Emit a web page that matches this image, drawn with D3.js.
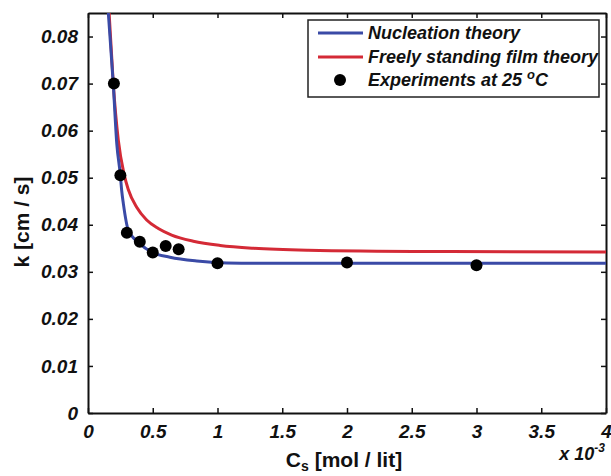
<!DOCTYPE html>
<html>
<head>
<meta charset="utf-8">
<script src="https://cdn.jsdelivr.net/npm/d3@7"></script>
<style>
  body { margin: 0; background: #fff; }
  text { font-family: "Liberation Sans", Arial, sans-serif; }
</style>
</head>
<body>
<div id="chart"></div>
<script>
// x values are in units of 1e-3 mol/lit
const xTicks = [0, 0.5, 1, 1.5, 2, 2.5, 3, 3.5, 4];
const yTicks = [0, 0.01, 0.02, 0.03, 0.04, 0.05, 0.06, 0.07, 0.08];

const expC = [0.2, 0.25, 0.3, 0.4, 0.5, 0.6, 0.7, 1.0, 2.0, 3.0];
const expK = [0.0700, 0.0505, 0.0383, 0.0364, 0.0341, 0.0355, 0.0348, 0.0318, 0.0320, 0.0314];

const nucC = [0.15, 0.157, 0.195, 0.222, 0.25, 0.26, 0.273, 0.311, 0.40, 0.49, 0.633, 0.84, 1.07, 1.38, 2.4, 4.0];
const nucK = [0.0880, 0.0850, 0.0700, 0.0573, 0.0505, 0.0473, 0.0445, 0.0389, 0.0360, 0.0342, 0.0331, 0.0323, 0.0319, 0.0318, 0.0318, 0.0318];

const filmC = [0.155, 0.163, 0.195, 0.234, 0.278, 0.311, 0.376, 0.453, 0.543, 0.646, 0.813, 1.02, 1.28, 1.7, 2.8, 4.0];
const filmK = [0.0880, 0.0850, 0.0700, 0.0580, 0.0508, 0.0475, 0.0437, 0.0410, 0.0392, 0.0378, 0.0365, 0.0356, 0.0350, 0.0346, 0.0343, 0.0342];

const legendLabels = ["Nucleation theory", "Freely standing film theory", "Experiments at 25 "];

const width = 611, height = 476;
const margin = { top: 13, right: 5, bottom: 63, left: 88 };
const w = width - margin.left - margin.right;
const h = height - margin.top - margin.bottom;

const blue = "#3a4aa6";
const red = "#d42a36";

const svg = d3.select("#chart")
  .append("svg")
  .attr("width", width)
  .attr("height", height);

svg.append("defs").append("clipPath")
  .attr("id", "clip")
  .append("rect")
  .attr("width", w)
  .attr("height", h);

const g = svg.append("g")
  .attr("transform", `translate(${margin.left},${margin.top})`);

const x = d3.scaleLinear().domain([0, 4]).range([0, w]);
const y = d3.scaleLinear().domain([0, 0.085]).range([h, 0]);

const fmtY = d => d === 0 ? "0" : d3.format(".2f")(d);
const fmtX = d => d3.format("~g")(d);

// axes with inward ticks on all four sides
const axisStyle = sel => {
  sel.selectAll(".domain").attr("stroke", "#111").attr("stroke-width", 2);
  sel.selectAll(".tick line").attr("stroke", "#111").attr("stroke-width", 1.5);
  sel.selectAll(".tick text")
    .attr("fill", "#111")
    .style("font-size", "19px")
    .style("font-weight", "bold")
    .style("font-style", "italic");
};

g.append("g")
  .attr("transform", `translate(0,${h})`)
  .call(d3.axisBottom(x).tickValues(xTicks).tickFormat(fmtX).tickSizeInner(-5).tickSizeOuter(0).tickPadding(12))
  .call(axisStyle);

g.append("g")
  .call(d3.axisTop(x).tickValues(xTicks).tickFormat("").tickSizeInner(-5).tickSizeOuter(0))
  .call(axisStyle);

g.append("g")
  .call(d3.axisLeft(y).tickValues(yTicks).tickFormat(fmtY).tickSizeInner(-5).tickSizeOuter(0).tickPadding(10))
  .call(axisStyle);

g.append("g")
  .attr("transform", `translate(${w},0)`)
  .call(d3.axisRight(y).tickValues(yTicks).tickFormat("").tickSizeInner(-5).tickSizeOuter(0))
  .call(axisStyle);

// theory curves
const line = d3.line()
  .x(d => x(d[0]))
  .y(d => y(d[1]))
  .curve(d3.curveMonotoneX);

const curves = g.append("g").attr("clip-path", "url(#clip)");

curves.append("path")
  .datum(d3.zip(filmC, filmK))
  .attr("fill", "none")
  .attr("stroke", red)
  .attr("stroke-width", 3)
  .attr("d", line);

curves.append("path")
  .datum(d3.zip(nucC, nucK))
  .attr("fill", "none")
  .attr("stroke", blue)
  .attr("stroke-width", 3)
  .attr("d", line);

// experiments
g.selectAll("circle.exp")
  .data(d3.zip(expC, expK))
  .enter()
  .append("circle")
  .attr("class", "exp")
  .attr("cx", d => x(d[0]))
  .attr("cy", d => y(d[1]))
  .attr("r", 6)
  .attr("fill", "#000");

// legend
const lg = svg.append("g").attr("transform", "translate(308,20)");
lg.append("rect")
  .attr("width", 291)
  .attr("height", 77)
  .attr("fill", "#fff")
  .attr("stroke", "#222")
  .attr("stroke-width", 1.5);

const rows = [13, 37, 60];
[blue, red].forEach((c, i) => {
  lg.append("line")
    .attr("x1", 10).attr("x2", 55)
    .attr("y1", rows[i]).attr("y2", rows[i])
    .attr("stroke", c)
    .attr("stroke-width", 3);
});
lg.append("circle")
  .attr("cx", 32).attr("cy", rows[2])
  .attr("r", 6)
  .attr("fill", "#000");

legendLabels.forEach((t, i) => {
  const txt = lg.append("text")
    .attr("x", 60)
    .attr("y", rows[i])
    .attr("dy", "0.35em")
    .attr("fill", "#111")
    .style("font-size", "18px")
    .style("font-weight", "bold")
    .style("font-style", "italic")
    .text(t);
  if (i === 2) {
    txt.append("tspan").attr("dy", -7).style("font-size", "13px").text("o");
    txt.append("tspan").attr("dy", 7).text("C");
  }
});

// axis labels
svg.append("text")
  .attr("transform", `translate(29,222) rotate(-90)`)
  .attr("text-anchor", "middle")
  .attr("fill", "#111")
  .style("font-size", "21px")
  .style("font-weight", "bold")
  .text("k [cm / s]");

const xl = svg.append("text")
  .attr("x", 344)
  .attr("y", 467)
  .attr("text-anchor", "middle")
  .attr("fill", "#111")
  .style("font-size", "21px")
  .style("font-weight", "bold");
xl.append("tspan").text("C");
xl.append("tspan").attr("dy", 4).style("font-size", "14px").text("s");
xl.append("tspan").attr("dy", -4).text(" [mol / lit]");

const ex = svg.append("text")
  .attr("x", 605)
  .attr("y", 460)
  .attr("text-anchor", "end")
  .attr("fill", "#111")
  .style("font-size", "18px")
  .style("font-weight", "bold")
  .style("font-style", "italic");
ex.append("tspan").text("x 10");
ex.append("tspan").attr("dy", -8).style("font-size", "12px").text("-3");
</script>
</body>
</html>
